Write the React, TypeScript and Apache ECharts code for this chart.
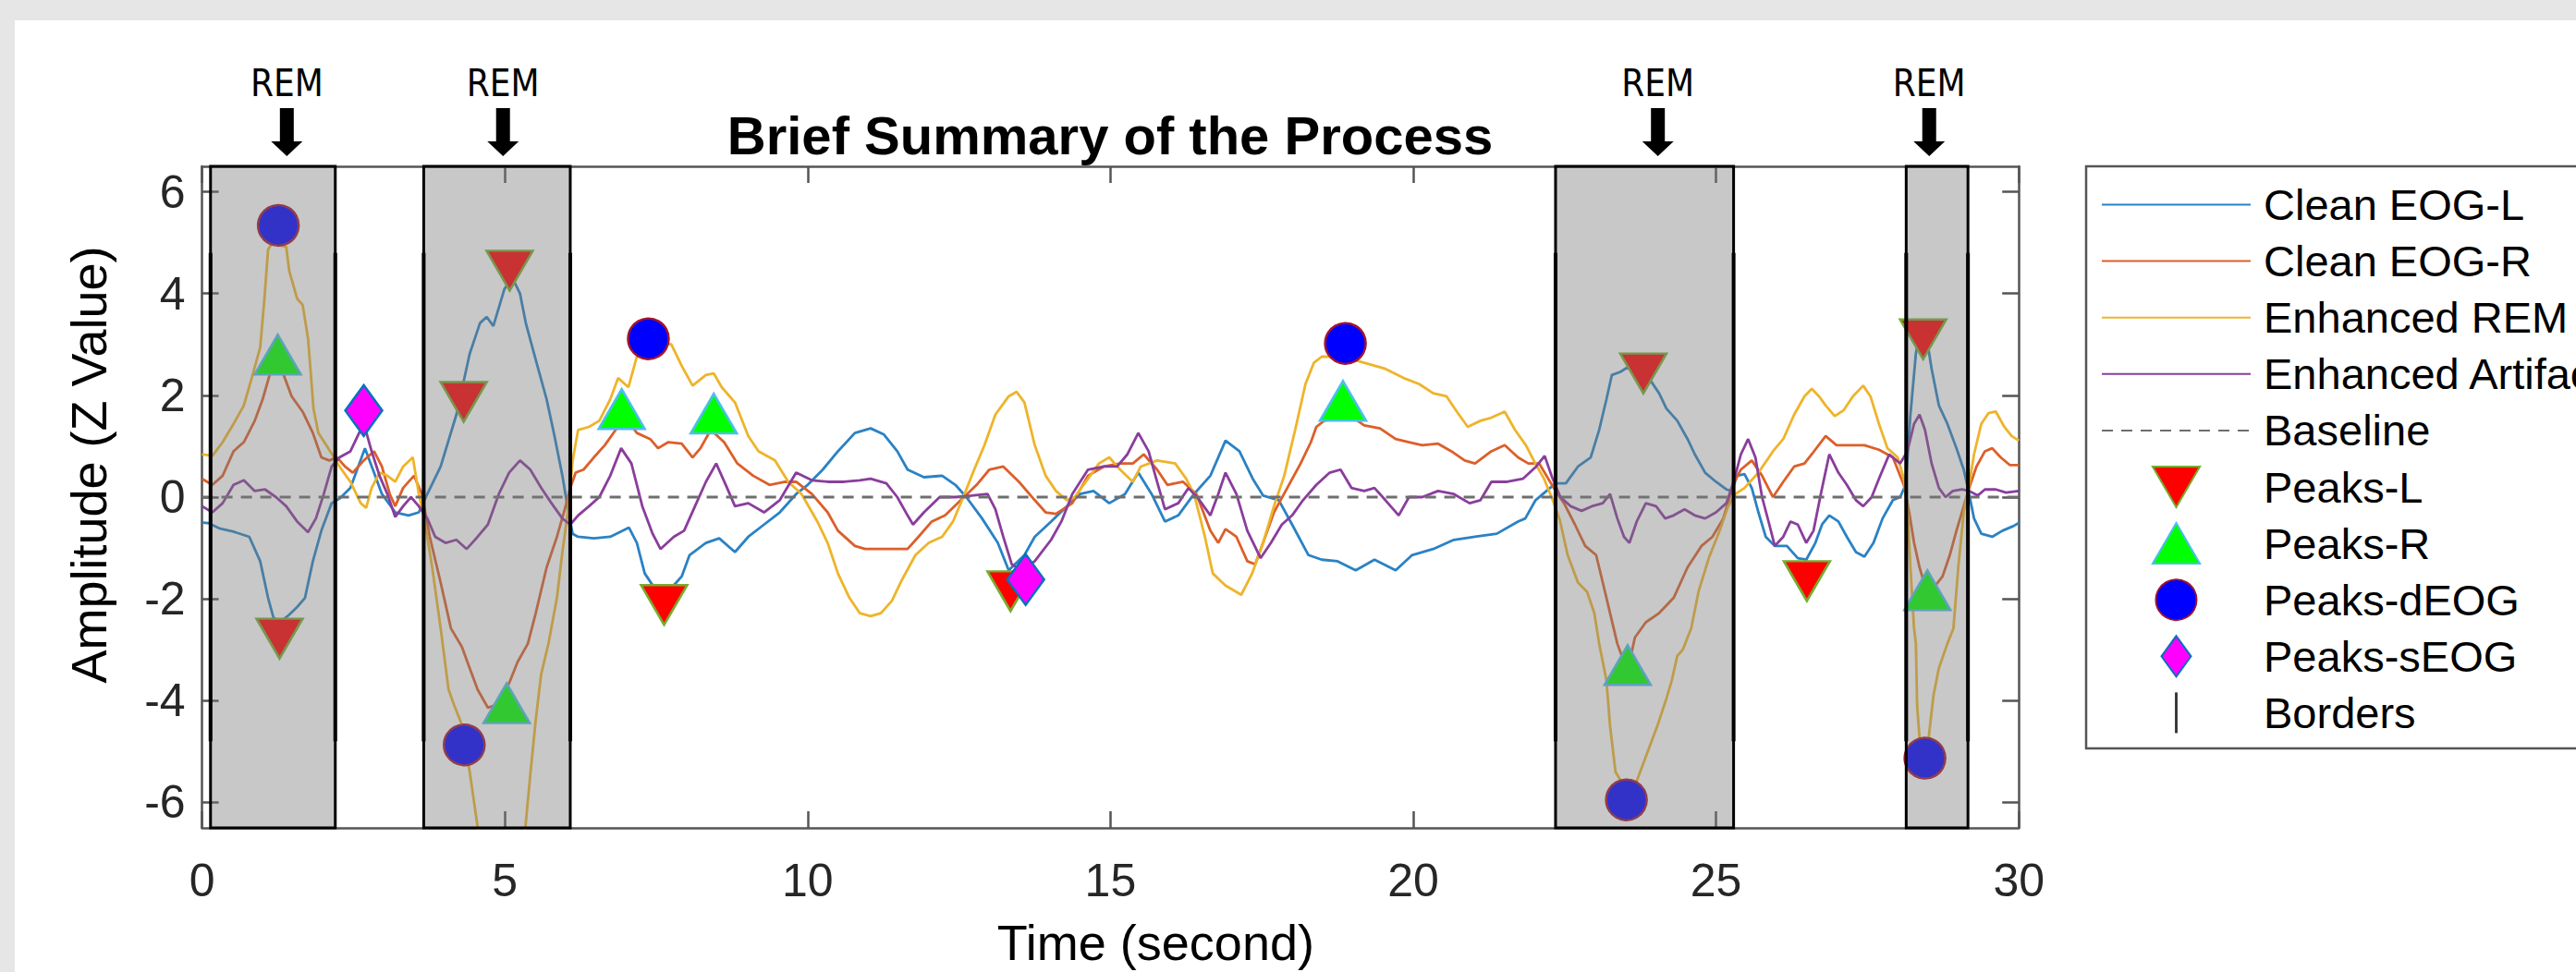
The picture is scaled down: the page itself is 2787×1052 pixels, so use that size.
import React, { useEffect, useRef } from 'react';
import * as echarts from 'echarts';

const FONT = "'Liberation Sans', Arial, Helvetica, sans-serif";

// ---- data: [time (s), amplitude (Z)] ----
const cleanEogL: number[][] = [
  [0,-0.5],[0.1,-0.51],[0.3,-0.62],[0.52,-0.68],[0.78,-0.78],[0.96,-1.26],[1.09,-1.98],[1.18,-2.37],[1.3,-2.45],[1.44,-2.31],
  [1.57,-2.16],[1.7,-1.98],[1.83,-1.26],[1.97,-0.66],[2.14,-0.12],[2.27,-0.03],[2.45,0.18],[2.69,0.96],[2.84,0.48],[2.97,0.06],
  [3.19,-0.3],[3.41,-0.36],[3.58,-0.3],[3.67,-0.06],[3.94,0.6],[4.2,1.62],[4.42,2.82],[4.59,3.42],[4.7,3.54],[4.81,3.36],
  [4.99,4.08],[5.12,4.32],[5.25,4.0],[5.35,3.4],[5.51,2.7],[5.69,1.92],[5.82,1.2],[5.95,0.42],[6.05,-0.3],[6.12,-0.72],
  [6.21,-0.78],[6.47,-0.81],[6.74,-0.78],[7.05,-0.6],[7.18,-0.9],[7.31,-1.5],[7.45,-1.75],[7.63,-1.8],[7.8,-1.72],[7.92,-1.56],
  [8.05,-1.14],[8.32,-0.9],[8.54,-0.81],[8.8,-1.08],[9.02,-0.78],[9.28,-0.54],[9.54,-0.3],[9.81,0.06],[10.0,0.24],[10.25,0.54],
  [10.5,0.9],[10.78,1.26],[11.04,1.35],[11.26,1.23],[11.48,0.9],[11.65,0.54],[11.92,0.39],[12.22,0.42],[12.44,0.24],[12.62,0],
  [12.88,-0.42],[13.14,-0.9],[13.32,-1.44],[13.58,-1.14],[13.75,-0.78],[14.02,-0.48],[14.28,-0.18],[14.5,0.06],[14.72,0.12],[14.98,-0.12],
  [15.24,0.06],[15.46,0.48],[15.68,0.06],[15.9,-0.48],[16.12,-0.36],[16.38,0.06],[16.65,0.42],[16.9,1.11],[17.13,0.9],[17.35,0.36],
  [17.52,0.03],[17.78,-0.06],[18.0,-0.54],[18.27,-1.14],[18.49,-1.23],[18.75,-1.26],[19.05,-1.44],[19.36,-1.23],[19.71,-1.44],[19.98,-1.14],
  [20.33,-1.02],[20.67,-0.84],[21.02,-0.78],[21.38,-0.72],[21.73,-0.48],[21.85,-0.42],[22.02,-0.06],[22.2,0.12],[22.35,0.27],[22.52,0.27],
  [22.72,0.6],[22.93,0.78],[23.07,1.32],[23.19,1.92],[23.28,2.4],[23.42,2.46],[23.54,2.55],[23.72,2.46],[23.89,2.34],[24.06,2.04],
  [24.18,1.74],[24.36,1.5],[24.53,1.14],[24.65,0.84],[24.82,0.48],[25.0,0.3],[25.17,0.15],[25.26,0.12],[25.35,0.42],[25.47,0.45],
  [25.59,0.18],[25.7,-0.3],[25.82,-0.78],[25.97,-0.96],[26.17,-0.96],[26.35,-1.2],[26.49,-1.23],[26.64,-0.9],[26.75,-0.54],[26.87,-0.36],
  [27.02,-0.48],[27.16,-0.78],[27.31,-1.08],[27.45,-1.17],[27.6,-0.9],[27.75,-0.42],[27.92,-0.06],[28.04,0],[28.13,0.24],[28.21,1.62],
  [28.3,2.82],[28.38,3.35],[28.48,3.12],[28.56,2.52],[28.68,1.8],[28.82,1.44],[28.97,0.96],[29.09,0.54],[29.18,0.06],[29.26,-0.42],
  [29.38,-0.72],[29.56,-0.78],[29.73,-0.66],[29.91,-0.57],[30,-0.51],
];

const cleanEogR: number[][] = [
  [0,0.36],[0.17,0.24],[0.34,0.42],[0.52,0.9],[0.69,1.08],[0.87,1.5],[1.0,1.92],[1.13,2.46],[1.25,2.6],[1.31,2.52],
  [1.48,1.98],[1.66,1.68],[1.83,1.26],[1.97,0.78],[2.1,0.72],[2.23,0.78],[2.36,0.6],[2.49,0.48],[2.67,0.72],[2.84,0.9],
  [2.97,0.6],[3.1,0.06],[3.19,-0.18],[3.32,0.18],[3.5,0.42],[3.63,0.06],[3.76,-0.78],[3.94,-1.68],[4.11,-2.58],[4.29,-2.94],
  [4.4,-3.3],[4.55,-3.78],[4.72,-4.14],[4.86,-4.08],[5.07,-3.66],[5.21,-3.24],[5.38,-2.88],[5.51,-2.28],[5.69,-1.38],[5.86,-0.78],
  [5.99,-0.24],[6.08,0.18],[6.17,0.48],[6.3,0.54],[6.47,0.78],[6.65,1.02],[6.83,1.32],[6.96,1.62],[7.18,1.26],[7.4,1.14],
  [7.53,0.96],[7.7,1.08],[7.92,1.05],[8.1,0.78],[8.23,0.96],[8.4,1.32],[8.62,1.08],[8.84,0.66],[9.1,0.42],[9.37,0.24],
  [9.63,0.3],[9.81,0.3],[10.07,0.06],[10.33,-0.3],[10.5,-0.66],[10.78,-0.96],[10.95,-1.02],[11.3,-1.02],[11.65,-1.02],[11.83,-0.78],
  [12.05,-0.48],[12.27,-0.36],[12.53,-0.06],[12.79,0.24],[13.0,0.54],[13.23,0.6],[13.49,0.3],[13.75,-0.06],[13.93,-0.3],[14.1,-0.33],
  [14.37,-0.12],[14.63,0.42],[14.89,0.6],[15.16,0.66],[15.37,0.66],[15.55,0.84],[15.77,0.54],[15.94,0.24],[16.2,0.3],[16.42,0.06],
  [16.65,-0.66],[16.78,-0.9],[16.9,-0.63],[17.08,-0.78],[17.26,-1.26],[17.39,-1.32],[17.52,-0.9],[17.7,-0.3],[17.92,0.18],[18.14,0.66],
  [18.31,1.08],[18.4,1.38],[18.53,1.5],[18.75,1.56],[19.01,1.56],[19.19,1.41],[19.45,1.35],[19.71,1.14],[19.93,1.08],[20.15,1.02],
  [20.41,1.05],[20.63,0.9],[20.85,0.72],[21.02,0.66],[21.29,0.9],[21.51,1.02],[21.73,0.78],[21.9,0.66],[22.08,0.66],[22.35,0.12],
  [22.49,-0.12],[22.67,-0.54],[22.84,-0.96],[23.02,-1.14],[23.13,-1.68],[23.25,-2.28],[23.37,-2.88],[23.48,-3.24],[23.56,-3.3],[23.66,-2.76],
  [23.84,-2.46],[24.06,-2.28],[24.3,-1.98],[24.53,-1.38],[24.76,-0.96],[24.94,-0.78],[25.12,-0.42],[25.3,0.3],[25.41,0.54],[25.59,0.72],
  [25.76,0.42],[25.94,0],[26.11,0.3],[26.29,0.6],[26.46,0.66],[26.58,0.84],[26.81,1.2],[26.99,1.02],[27.22,1.02],[27.45,1.02],
  [27.69,0.93],[27.92,0.78],[28.1,0.24],[28.19,-0.3],[28.27,-0.9],[28.36,-1.38],[28.45,-1.74],[28.62,-1.74],[28.74,-1.56],[28.86,-1.14],
  [28.97,-0.66],[29.09,-0.18],[29.18,0.18],[29.3,0.6],[29.44,0.9],[29.56,0.96],[29.7,0.78],[29.85,0.63],[30,0.63],
];

const enhancedRem: number[][] = [
  [0,0.84],[0.17,0.81],[0.34,1.08],[0.52,1.44],[0.69,1.8],[0.82,2.34],[0.96,2.94],[1.03,3.9],[1.09,4.86],[1.15,4.98],
  [1.39,4.92],[1.44,4.44],[1.57,3.9],[1.66,3.78],[1.75,3.12],[1.79,2.52],[1.84,1.74],[1.92,1.26],[2.05,1.02],[2.18,0.78],
  [2.27,0.6],[2.45,0.3],[2.62,-0.12],[2.71,-0.21],[2.8,0.18],[2.93,0.48],[3.06,0.42],[3.19,0.3],[3.32,0.6],[3.48,0.78],
  [3.58,0.06],[3.67,-0.42],[3.8,-1.38],[3.94,-2.58],[4.07,-3.78],[4.16,-4.08],[4.29,-4.47],[4.42,-5.4],[4.55,-6.48],[4.75,-7.4],
  [5.0,-7.8],[5.2,-7.2],[5.34,-6.48],[5.42,-5.46],[5.51,-4.38],[5.6,-3.48],[5.72,-2.88],[5.86,-1.98],[5.95,-1.08],[6.04,-0.3],
  [6.12,0.72],[6.21,1.32],[6.39,1.38],[6.56,1.5],[6.74,1.92],[6.87,2.34],[7.04,2.16],[7.18,2.76],[7.35,3.0],[7.55,3.02],
  [7.75,3.0],[7.92,2.58],[8.1,2.19],[8.32,2.4],[8.45,2.43],[8.58,2.16],[8.8,1.86],[9.02,1.2],[9.19,0.9],[9.46,0.72],
  [9.68,0.3],[9.9,0.06],[10.16,-0.48],[10.33,-0.9],[10.5,-1.5],[10.69,-1.98],[10.86,-2.28],[11.04,-2.34],[11.21,-2.28],[11.39,-2.04],
  [11.56,-1.62],[11.78,-1.14],[12.0,-0.9],[12.22,-0.78],[12.4,-0.48],[12.57,0],[12.75,0.54],[12.92,1.02],[13.1,1.62],[13.32,1.98],
  [13.45,2.07],[13.58,1.86],[13.75,1.02],[13.93,0.42],[14.1,0.12],[14.28,-0.06],[14.41,0],[14.63,0.36],[14.81,0.66],[14.98,0.78],
  [15.16,0.54],[15.37,0.3],[15.5,0.6],[15.77,0.72],[16.07,0.66],[16.25,0.36],[16.38,0.06],[16.56,-0.78],[16.69,-1.5],[16.9,-1.74],
  [17.16,-1.92],[17.34,-1.5],[17.52,-0.9],[17.7,-0.18],[17.87,0.42],[18.05,1.32],[18.22,2.22],[18.36,2.64],[18.49,2.76],[18.84,2.76],
  [19.19,2.64],[19.54,2.52],[19.84,2.34],[20.1,2.22],[20.33,2.04],[20.55,1.98],[20.72,1.68],[20.9,1.38],[21.11,1.5],[21.29,1.56],
  [21.51,1.68],[21.68,1.32],[21.86,1.02],[22.02,0.65],[22.16,0.36],[22.3,-0.05],[22.42,-0.45],[22.55,-1.14],[22.72,-1.68],[22.87,-1.86],
  [22.99,-2.28],[23.07,-2.88],[23.19,-3.6],[23.25,-4.5],[23.34,-5.4],[23.43,-5.58],[23.52,-5.62],[23.69,-5.58],[23.86,-5.04],[24.03,-4.5],
  [24.18,-3.96],[24.27,-3.6],[24.36,-3.12],[24.45,-3.0],[24.59,-2.58],[24.71,-1.86],[24.88,-1.2],[25.06,-0.66],[25.2,-0.18],[25.32,0.06],
  [25.47,0.18],[25.7,0.48],[25.94,0.9],[26.11,1.14],[26.29,1.62],[26.46,1.98],[26.58,2.13],[26.7,1.98],[26.81,1.8],[26.96,1.59],
  [27.11,1.71],[27.26,1.98],[27.43,2.19],[27.55,1.98],[27.69,1.44],[27.83,0.96],[28.0,0.78],[28.1,0.36],[28.16,-0.18],[28.21,-1.38],
  [28.27,-2.58],[28.3,-2.88],[28.32,-4.08],[28.36,-4.74],[28.45,-4.9],[28.51,-4.74],[28.59,-3.9],[28.68,-3.36],[28.82,-2.88],[28.92,-2.58],
  [29.0,-1.38],[29.09,-0.3],[29.18,0.24],[29.26,0.84],[29.38,1.44],[29.5,1.65],[29.62,1.68],[29.76,1.38],[29.88,1.2],[30,1.11],
];

const enhancedArtifact: number[][] = [
  [0,-0.18],[0.17,-0.3],[0.34,-0.12],[0.52,0.24],[0.69,0.33],[0.87,0.12],[1.04,0.15],[1.22,0],[1.39,-0.18],[1.57,-0.48],
  [1.75,-0.69],[1.88,-0.42],[2.01,0.06],[2.14,0.6],[2.27,0.78],[2.45,0.9],[2.67,1.45],[2.8,0.9],[2.93,0.42],[3.06,0.06],
  [3.19,-0.39],[3.32,-0.18],[3.45,0],[3.58,-0.18],[3.72,-0.42],[3.85,-0.78],[4.02,-0.9],[4.2,-0.84],[4.37,-1.02],[4.55,-0.78],
  [4.72,-0.54],[4.9,0.06],[5.07,0.48],[5.25,0.72],[5.42,0.54],[5.6,0.18],[5.77,-0.12],[5.95,-0.42],[6.08,-0.54],[6.21,-0.36],
  [6.39,-0.18],[6.56,0],[6.74,0.42],[6.92,0.96],[7.09,0.66],[7.27,-0.18],[7.44,-0.72],[7.57,-1.02],[7.79,-0.78],[7.96,-0.66],
  [8.14,-0.18],[8.32,0.3],[8.49,0.66],[8.67,0.18],[8.8,-0.18],[9.02,-0.12],[9.28,-0.3],[9.54,-0.06],[9.81,0.48],[10.07,0.33],
  [10.33,0.3],[10.6,0.3],[10.86,0.33],[11.04,0.36],[11.3,0.27],[11.48,0],[11.65,-0.36],[11.74,-0.54],[11.92,-0.3],[12.18,0],
  [12.44,0],[12.71,0.03],[12.97,0.06],[13.1,-0.24],[13.23,-0.78],[13.37,-1.32],[13.54,-1.44],[13.75,-1.26],[14.02,-0.84],[14.19,-0.48],
  [14.37,0.06],[14.63,0.54],[14.89,0.6],[15.11,0.6],[15.28,0.84],[15.46,1.26],[15.63,0.9],[15.77,0.3],[15.9,-0.24],[16.12,-0.12],
  [16.29,0.18],[16.47,-0.06],[16.65,-0.36],[16.78,0.06],[16.9,0.48],[17.08,0.06],[17.26,-0.66],[17.48,-1.2],[17.65,-0.9],[17.83,-0.54],
  [18.0,-0.36],[18.18,-0.06],[18.4,0.24],[18.62,0.48],[18.8,0.54],[18.98,0.18],[19.19,0.12],[19.36,0.18],[19.54,-0.06],[19.76,-0.36],
  [19.93,0],[20.15,0],[20.41,0.12],[20.67,0.06],[20.93,-0.12],[21.11,-0.06],[21.29,0.3],[21.55,0.3],[21.81,0.36],[22.03,0.6],
  [22.17,0.81],[22.29,0.4],[22.43,0],[22.6,-0.18],[22.78,-0.27],[22.95,-0.18],[23.13,-0.12],[23.25,0.06],[23.37,-0.42],[23.48,-0.78],
  [23.57,-0.9],[23.69,-0.48],[23.84,-0.12],[24.01,-0.18],[24.16,-0.42],[24.3,-0.36],[24.48,-0.24],[24.65,-0.36],[24.82,-0.42],[25.0,-0.3],
  [25.17,-0.12],[25.29,0.3],[25.41,0.84],[25.53,1.14],[25.65,0.78],[25.76,0],[25.88,-0.54],[25.97,-0.96],[26.11,-0.78],[26.23,-0.48],
  [26.35,-0.54],[26.49,-0.9],[26.61,-0.66],[26.73,0.06],[26.87,0.84],[27.02,0.48],[27.16,0.24],[27.31,-0.06],[27.43,-0.18],[27.57,0],
  [27.69,0.36],[27.86,0.84],[28.04,0.66],[28.16,0.9],[28.27,1.44],[28.36,1.62],[28.45,1.32],[28.56,0.66],[28.68,0.18],[28.79,0],
  [28.91,0.12],[29.06,0.15],[29.18,0.12],[29.32,0.03],[29.44,0.15],[29.62,0.15],[29.79,0.09],[30,0.12],
];

const baseline: number[][] = [[0, 0], [30, 0]];

const peaksL: number[][] = [[1.28,-2.78],[4.32,1.87],[5.08,4.45],[7.63,-2.12],[13.35,-1.85],[23.8,2.43],[26.5,-1.65],[28.42,3.1]];
const peaksR: number[][] = [[1.25,2.8],[5.03,-4.05],[6.93,1.73],[8.45,1.64],[18.84,1.89],[23.54,-3.3],[28.49,-1.83]];
const peaksDEog: number[][] = [[1.26,5.34],[4.33,-4.87],[7.37,3.11],[18.88,3.02],[23.52,-5.95],[28.45,-5.13]];
const peaksSEog: number[][] = [[2.67,1.7],[13.6,-1.62]];

const remBlocks: number[][] = [[0.14, 2.2], [3.66, 6.08], [22.35, 25.29], [28.14, 29.16]];
const borderTimes: number[] = [0.14, 2.2, 3.66, 6.08, 22.35, 25.29, 28.14, 29.16];
const borderLow = -4.8;
const borderHigh = 4.8;
const remArrowTimes: number[] = [1.4, 4.97, 24.04, 28.52];
const remLabels: string[] = ['REM', 'REM', 'REM', 'REM'];

const xTicks: number[] = [0, 5, 10, 15, 20, 25, 30];
const yTicks: number[] = [-6, -4, -2, 0, 2, 4, 6];
const X_MIN = 0, X_MAX = 30, Y_MIN = -6.5, Y_MAX = 6.5;

const AXIS_COLOR = '#555555';
const C_L = '#2a82c4';
const C_R = '#dc5f2a';
const C_REM = '#eeb42a';
const C_ART = '#8a3d9c';

export default function App() {
  const ref = useRef<HTMLDivElement>(null);

  useEffect(() => {
    if (!ref.current) return;
    const chart = echarts.init(ref.current, null, { renderer: 'svg' });

    const lineSeries = (name: string, data: number[][], color: string) => ({
      type: 'line', name, data, symbol: 'none', showSymbol: false, smooth: false, clip: true, z: 2,
      lineStyle: { color, width: 2.8 }, itemStyle: { color },
    });

    const hiddenSymbol = { opacity: 0 };

    const option: any = {
      animation: false,
      backgroundColor: 'transparent',
      textStyle: { fontFamily: FONT },
      title: {
        text: 'Brief Summary of the Process', left: 1201, top: 117, textAlign: 'center', padding: 0,
        textStyle: { fontFamily: FONT, fontSize: 58, fontWeight: 'bold', color: '#000', lineHeight: 58 },
      },
      grid: { left: 218.6, top: 180, width: 1965.6, height: 722, containLabel: false },
      legend: {
        orient: 'vertical', left: 2257, top: 180, padding: [18, 600, 15, 16],
        itemWidth: 161, itemHeight: 44, itemGap: 14.1, selectedMode: false, symbolKeepAspect: true,
        borderColor: AXIS_COLOR, borderWidth: 2.5, backgroundColor: '#ffffff',
        textStyle: { fontFamily: FONT, fontSize: 47, color: '#000', padding: [0, 0, 0, 9] },
        data: [
          { name: 'Clean EOG-L', itemStyle: hiddenSymbol },
          { name: 'Clean EOG-R', itemStyle: hiddenSymbol },
          { name: 'Enhanced REM', itemStyle: hiddenSymbol },
          { name: 'Enhanced Artifact', itemStyle: hiddenSymbol },
          { name: 'Baseline', itemStyle: hiddenSymbol },
          { name: 'Peaks-L', icon: 'path://M0,0L50,0L25,43Z' },
          { name: 'Peaks-R', icon: 'path://M25,0L50,43L0,43Z' },
          { name: 'Peaks-dEOG' },
          { name: 'Peaks-sEOG', icon: 'path://M20,0L40,27.5L20,55L0,27.5Z' },
          { name: 'Borders', icon: 'path://M0,0L3,0L3,46L0,46Z' },
        ],
      },
      xAxis: [
        {
          type: 'value', min: X_MIN, max: X_MAX, interval: 5, position: 'bottom',
          name: 'Time (second)', nameLocation: 'middle', nameGap: 97,
          nameTextStyle: { fontFamily: FONT, fontSize: 54, color: '#000', lineHeight: 54, padding: [0, 0, 0, 98] },
          axisLine: { show: true, onZero: false, lineStyle: { color: AXIS_COLOR, width: 2.5 } },
          axisTick: { show: true, inside: true, length: 18, customValues: xTicks, lineStyle: { color: AXIS_COLOR, width: 2.5 } },
          axisLabel: { show: true, margin: 32, fontFamily: FONT, fontSize: 50, color: '#262626', customValues: xTicks },
          splitLine: { show: false },
        },
        {
          type: 'value', min: X_MIN, max: X_MAX, interval: 5, position: 'top',
          axisLine: { show: true, onZero: false, lineStyle: { color: AXIS_COLOR, width: 2.5 } },
          axisTick: { show: true, inside: true, length: 18, lineStyle: { color: AXIS_COLOR, width: 2.5 } },
          axisLabel: { show: false }, splitLine: { show: false },
        },
      ],
      yAxis: [
        {
          type: 'value', min: Y_MIN, max: Y_MAX, splitNumber: 6, position: 'left',
          name: 'Amplitude (Z Value)', nameLocation: 'middle', nameGap: 96,
          nameTextStyle: { fontFamily: FONT, fontSize: 54, color: '#000', lineHeight: 54, padding: [0, 0, 0, 70] },
          axisLine: { show: true, onZero: false, lineStyle: { color: AXIS_COLOR, width: 2.5 } },
          axisTick: { show: true, inside: true, length: 18, customValues: yTicks, lineStyle: { color: AXIS_COLOR, width: 2.5 } },
          axisLabel: { show: true, margin: 18, fontFamily: FONT, fontSize: 50, color: '#262626', customValues: yTicks },
          splitLine: { show: false },
        },
        {
          type: 'value', min: Y_MIN, max: Y_MAX, splitNumber: 6, position: 'right',
          axisLine: { show: true, onZero: false, lineStyle: { color: AXIS_COLOR, width: 2.5 } },
          axisTick: { show: true, inside: true, length: 18, customValues: yTicks, lineStyle: { color: AXIS_COLOR, width: 2.5 } },
          axisLabel: { show: false }, splitLine: { show: false },
        },
      ],
      series: [
        lineSeries('Clean EOG-L', cleanEogL, C_L),
        lineSeries('Clean EOG-R', cleanEogR, C_R),
        lineSeries('Enhanced REM', enhancedRem, C_REM),
        lineSeries('Enhanced Artifact', enhancedArtifact, C_ART),
        {
          type: 'line', name: 'Baseline', data: baseline, symbol: 'none', showSymbol: false, z: 2,
          lineStyle: { color: '#6e6e6e', width: 2.8, type: [12, 9] }, itemStyle: { color: '#6e6e6e' },
        },
        {
          type: 'scatter', name: 'Peaks-L', data: peaksL, symbol: 'triangle', symbolRotate: 180, symbolSize: [50, 43], z: 3,
          itemStyle: { color: '#ff0000', borderColor: '#77AC30', borderWidth: 2.5, opacity: 1 },
        },
        {
          type: 'scatter', name: 'Peaks-R', data: peaksR, symbol: 'triangle', symbolSize: [50, 43], z: 3,
          itemStyle: { color: '#00ff00', borderColor: '#4DBEEE', borderWidth: 2.5, opacity: 1 },
        },
        {
          type: 'scatter', name: 'Peaks-dEOG', data: peaksDEog, symbol: 'circle', symbolSize: 44, z: 3,
          itemStyle: { color: '#0000ff', borderColor: '#A2142F', borderWidth: 2.5, opacity: 1 },
        },
        {
          type: 'scatter', name: 'Peaks-sEOG', data: peaksSEog, symbol: 'diamond', symbolSize: [40, 55], z: 3,
          itemStyle: { color: '#ff00ff', borderColor: '#0072BD', borderWidth: 2.5, opacity: 1 },
        },
        {
          type: 'custom', name: 'REM periods', data: remBlocks, z: 5, silent: true,
          encode: { x: [0, 1] },
          renderItem: (_p: any, api: any) => {
            const a = api.coord([api.value(0), Y_MAX]);
            const b = api.coord([api.value(1), Y_MIN]);
            return {
              type: 'rect',
              shape: { x: a[0], y: a[1], width: b[0] - a[0], height: b[1] - a[1] },
              style: { fill: 'rgba(122,122,122,0.41)', stroke: '#000', lineWidth: 3 },
            };
          },
        },
        {
          type: 'custom', name: 'Borders', data: borderTimes.map((t) => [t, borderLow, borderHigh]), z: 6, silent: true,
          itemStyle: { color: '#333333' },
          encode: { x: 0, y: [1, 2] },
          renderItem: (_p: any, api: any) => {
            const a = api.coord([api.value(0), api.value(1)]);
            const b = api.coord([api.value(0), api.value(2)]);
            return {
              type: 'line',
              shape: { x1: a[0], y1: a[1], x2: b[0], y2: b[1] },
              style: { stroke: '#000', lineWidth: 4 },
            };
          },
        },
      ],
    };

    chart.setOption(option);

    const gridTop = chart.convertToPixel({ yAxisIndex: 0 }, Y_MAX) as number;
    const graphics = remArrowTimes.map((t, i) => {
      const x = chart.convertToPixel({ xAxisIndex: 0 }, t) as number;
      return {
        type: 'group', x, y: gridTop,
        children: [
          {
            type: 'text', x: 0, y: -90,
            style: {
              text: remLabels[i], fill: '#000', fontSize: 40,
              fontFamily: "'DejaVu Sans Condensed', 'DejaVu Sans', sans-serif",
              align: 'center', verticalAlign: 'middle',
            },
          },
          {
            type: 'polygon',
            shape: { points: [[-7.5, -63], [7.5, -63], [7.5, -27], [17, -27], [0, -11], [-17, -27], [-7.5, -27]] },
            style: { fill: '#000' },
          },
        ],
      };
    });
    chart.setOption({ graphic: graphics });

    return () => chart.dispose();
  }, []);

  return (
    <div style={{ position: 'fixed', left: 0, top: 0, width: 2787, height: 1052, background: '#e6e6e6', overflow: 'hidden' }}>
      <div style={{ position: 'absolute', left: 16, top: 22, right: 0, bottom: 0, background: '#ffffff' }} />
      <div ref={ref} style={{ position: 'absolute', left: 0, top: 0, width: 2787, height: 1052 }} />
    </div>
  );
}
